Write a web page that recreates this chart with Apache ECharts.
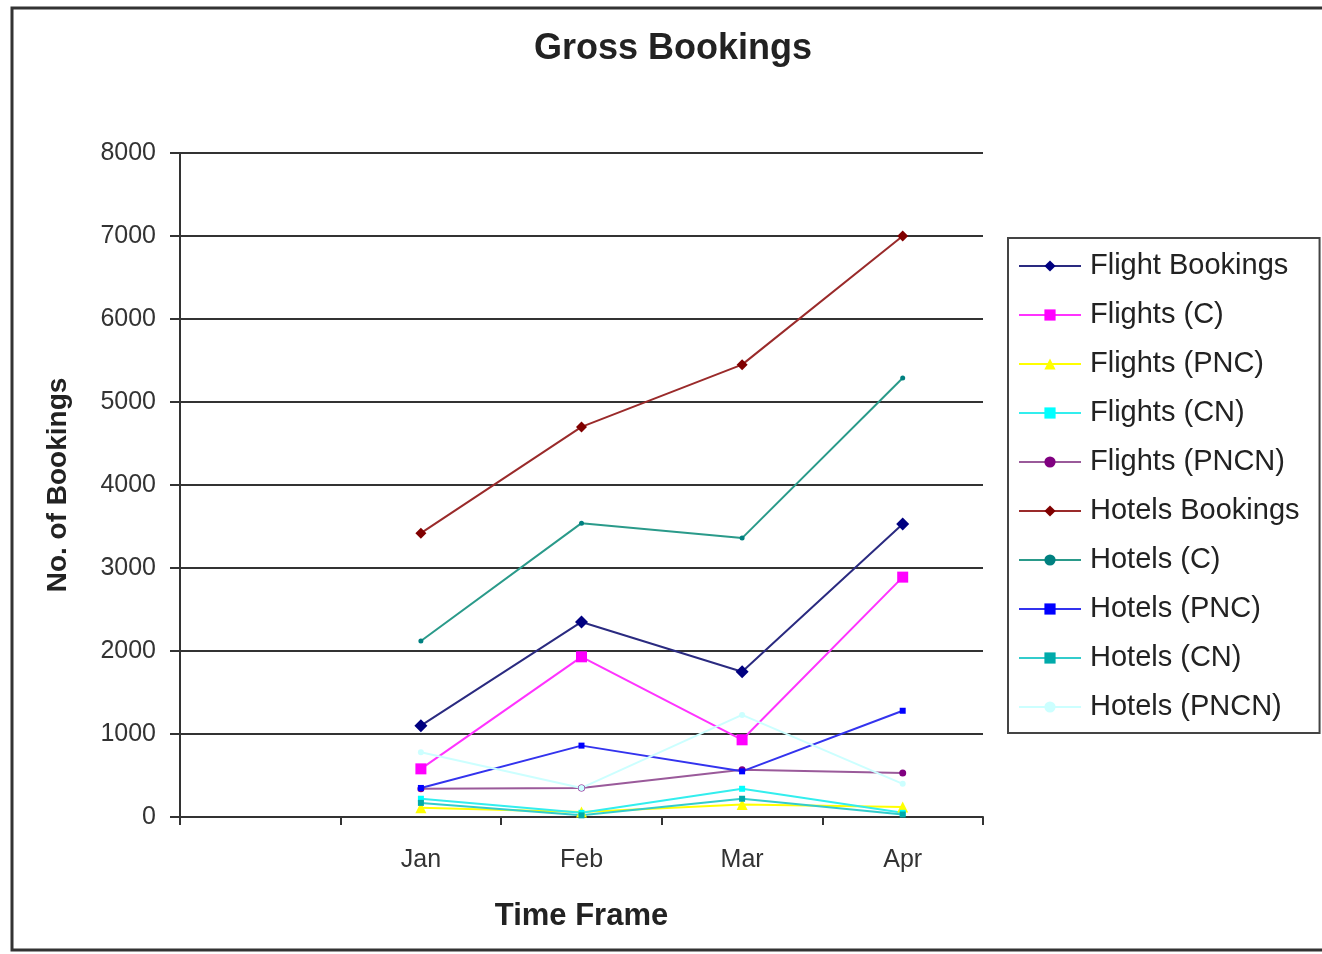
<!DOCTYPE html>
<html>
<head>
<meta charset="utf-8">
<script src="https://cdn.jsdelivr.net/npm/echarts@6/dist/echarts.min.js"></script>
<style>
html,body{margin:0;padding:0;background:#fff;}
#chart{width:1322px;height:954px;}
</style>
</head>
<body>
<div id="chart"></div>
<script>
// ---- data ----
var months = ['Jan', 'Feb', 'Mar', 'Apr'];
var flightBookings = [1100, 2350, 1750, 3530];
var flightsC = [580, 1930, 930, 2890];
var flightsPNC = [110, 60, 150, 120];
var flightsCN = [220, 50, 340, 50];
var flightsPNCN = [340, 350, 570, 530];
var hotelsBookings = [3420, 4700, 5450, 7000];
var hotelsC = [2120, 3540, 3360, 5290];
var hotelsPNC = [350, 860, 550, 1280];
var hotelsCN = [170, 20, 220, 30];
var hotelsPNCN = [780, 350, 1230, 400];
var yTicks = { min: 0, max: 8000, interval: 1000 };

// leading empty category slot as in the original
var categories = [''].concat(months);
function pad(a) { return [null].concat(a); }

var seriesDefs = [
  { name: 'Flight Bookings', data: flightBookings, color: '#000080', line: '#2a2a80', symbol: 'diamond', size: 13 },
  { name: 'Flights (C)', data: flightsC, color: '#ff00ff', line: '#ff33ff', symbol: 'rect', size: 11 },
  { name: 'Flights (PNC)', data: flightsPNC, color: '#ffff00', line: '#ffff00', symbol: 'triangle', size: 11 },
  { name: 'Flights (CN)', data: flightsCN, color: '#00ffff', line: '#33eeee', symbol: 'rect', size: 6 },
  { name: 'Flights (PNCN)', data: flightsPNCN, color: '#800080', line: '#9a5a9a', symbol: 'circle', size: 7 },
  { name: 'Hotels Bookings', data: hotelsBookings, color: '#800000', line: '#9a2a2a', symbol: 'diamond', size: 11 },
  { name: 'Hotels (C)', data: hotelsC, color: '#008080', line: '#2a9a8a', symbol: 'circle', size: 5 },
  { name: 'Hotels (PNC)', data: hotelsPNC, color: '#0000ff', line: '#3333ee', symbol: 'rect', size: 6 },
  { name: 'Hotels (CN)', data: hotelsCN, color: '#00aaaa', line: '#33cccc', symbol: 'rect', size: 6 },
  { name: 'Hotels (PNCN)', data: hotelsPNCN, color: '#ccffff', line: '#ccffff', symbol: 'circle', size: 6 }
];

var chart = echarts.init(document.getElementById('chart'));
var option = {
  animation: false,
  backgroundColor: '#ffffff',
  title: {
    text: 'Gross Bookings',
    left: 668,
    textAlign: 'center',
    top: 26,
    textStyle: { fontFamily: 'Liberation Sans', fontSize: 36, fontWeight: 'bold', color: '#222' }
  },
  graphic: [{
    type: 'rect',
    shape: { x: 12, y: 8, width: 1320, height: 942 },
    style: { fill: 'none', stroke: '#333', lineWidth: 3 },
    silent: true
  }],
  legend: {
    orient: 'vertical',
    left: 1008,
    top: 238,
    padding: [13, 20, 11, 10],
    itemGap: 19,
    itemWidth: 62,
    itemHeight: 14,
    borderColor: '#444',
    borderWidth: 2,
    backgroundColor: '#fff',
    textStyle: { fontFamily: 'Liberation Sans', fontSize: 29, color: '#222', lineHeight: 30, padding: [0, 0, 0, 4] },
    data: seriesDefs.map(function (s) { return s.name; })
  },
  grid: { left: 180, right: 339, top: 153, bottom: 137 },
  xAxis: {
    type: 'category',
    data: categories,
    boundaryGap: true,
    name: 'Time Frame',
    nameLocation: 'middle',
    nameGap: 84,
    nameTextStyle: { fontFamily: 'Liberation Sans', fontSize: 31, fontWeight: 'bold', color: '#222' },
    axisLine: { lineStyle: { color: '#333', width: 2 } },
    axisTick: { show: true, length: 8, lineStyle: { color: '#333', width: 2 } },
    axisLabel: { fontFamily: 'Liberation Sans', fontSize: 25, color: '#333', margin: 31 },
    splitLine: { show: false }
  },
  yAxis: {
    type: 'value',
    min: yTicks.min,
    max: yTicks.max,
    interval: yTicks.interval,
    name: 'No. of Bookings',
    nameLocation: 'middle',
    nameRotate: 90,
    nameGap: 108,
    nameTextStyle: { fontFamily: 'Liberation Sans', fontSize: 28, fontWeight: 'bold', color: '#222' },
    axisLine: { show: true, lineStyle: { color: '#333', width: 2 } },
    axisTick: { show: true, length: 10, lineStyle: { color: '#333', width: 2 } },
    axisLabel: { fontFamily: 'Liberation Sans', fontSize: 25, color: '#333', margin: 24, formatter: function (v) { return String(v); } },
    splitLine: { show: true, lineStyle: { color: '#333', width: 2 } }
  },
  series: seriesDefs.map(function (s) {
    return {
      name: s.name,
      type: 'line',
      data: pad(s.data),
      symbol: s.symbol,
      symbolSize: s.size,
      showSymbol: true,
      connectNulls: false,
      itemStyle: { color: s.color },
      lineStyle: { color: s.line, width: 2 },
      z: 3
    };
  })
};
chart.setOption(option);
</script>
</body>
</html>
